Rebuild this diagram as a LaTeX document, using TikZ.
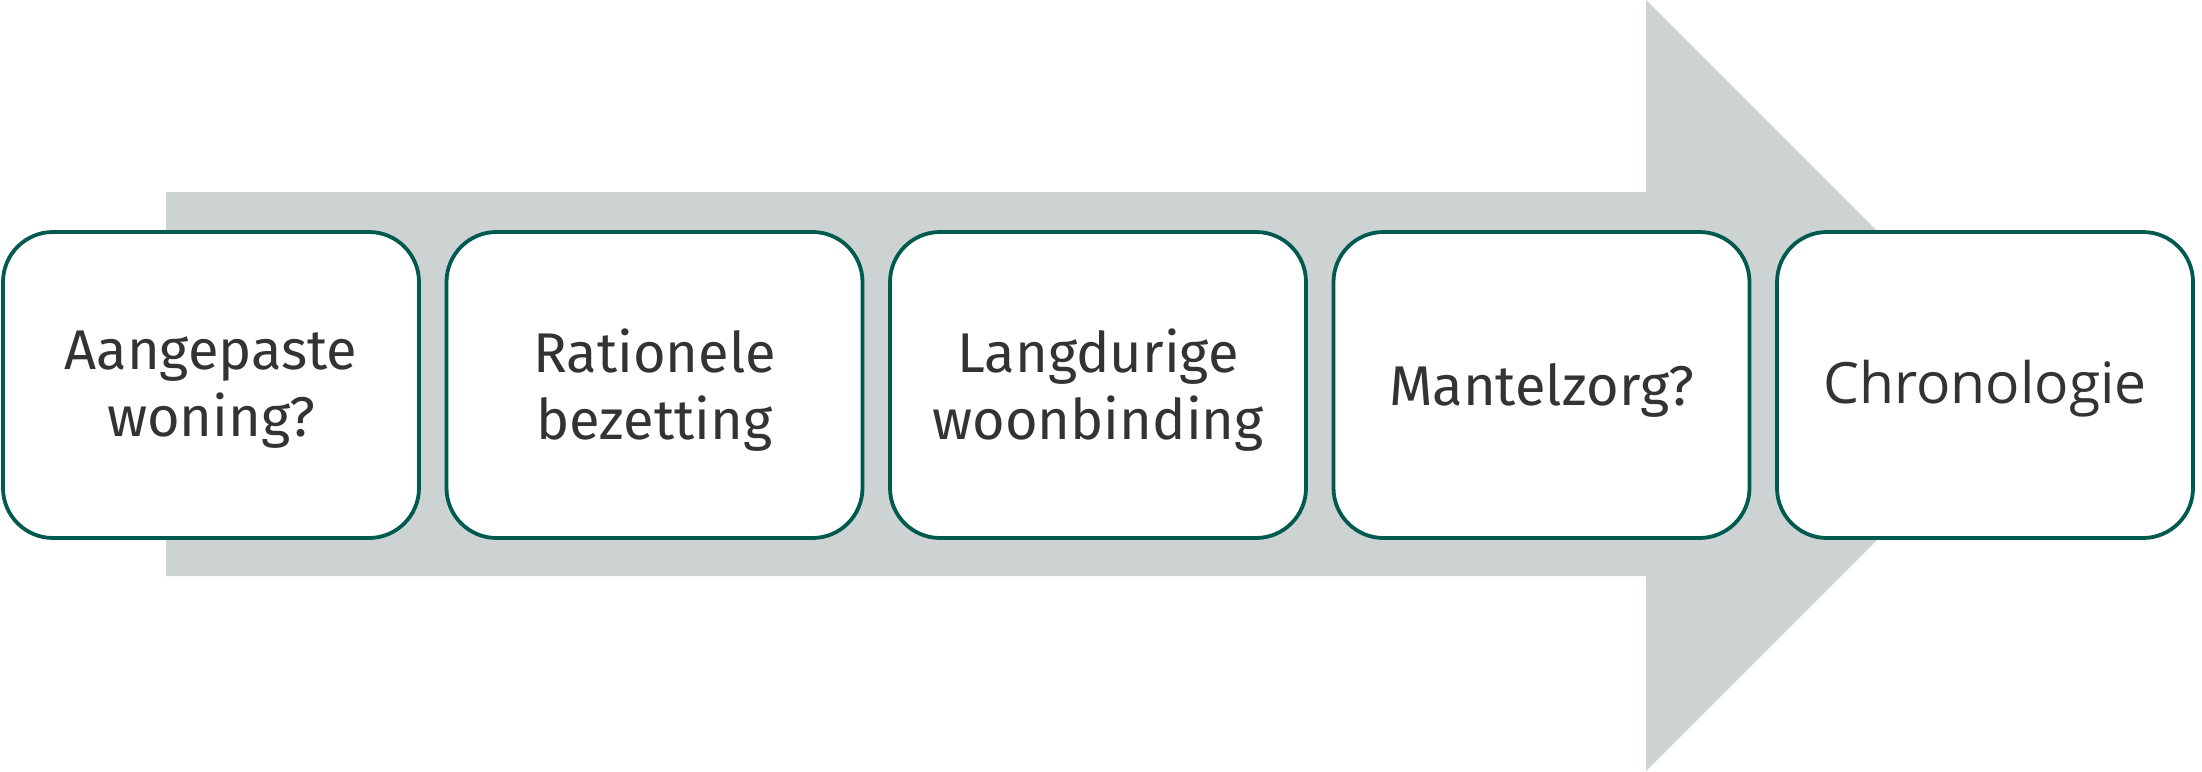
\documentclass[tikz,border=0pt]{standalone}
\usepackage{fontspec}
\setmainfont{Fira Sans}
\newfontfamily\opensans{Open Sans}
\definecolor{tealline}{HTML}{005A50}
\definecolor{arrowgray}{HTML}{CCD3D2}
\definecolor{textdark}{HTML}{333333}

\begin{document}
\begin{tikzpicture}[x=1pt,y=-1pt,
  stepbox/.style={draw=tealline, line width=3.8pt, fill=white,
    rounded corners=50pt, minimum width=416pt, minimum height=306pt,
    inner sep=0pt},
  steptext/.style={align=center, text=textdark, inner sep=0pt, yshift=-5pt,
    font=\fontsize{56}{67}\selectfont},
  bigarrow/.style={fill=arrowgray, draw=none}]

\useasboundingbox (0,0) rectangle (2202,771);

% broad background arrow
\path[bigarrow] (166,192) -- (1646,192) -- (1646,0) -- (2031.5,385.5)
  -- (1646,771) -- (1646,576) -- (166,576) -- cycle;

% the five steps
\node[stepbox, label={[steptext]center:Aangepaste\\woning?}] (s1) at (211,385) {};
\node[stepbox, label={[steptext]center:Rationele\\bezetting}] (s2) at (654.5,385) {};
\node[stepbox, label={[steptext]center:Langdurige\\woonbinding}] (s3) at (1098,385) {};
\node[stepbox, label={[steptext]center:Mantelzorg?}] (s4) at (1541.5,385) {};
\node[stepbox, label={[steptext, yshift=1pt, font=\opensans\fontsize{57}{67}\selectfont]center:Chronologie}] (s5) at (1985,385) {};
\end{tikzpicture}
\end{document}
